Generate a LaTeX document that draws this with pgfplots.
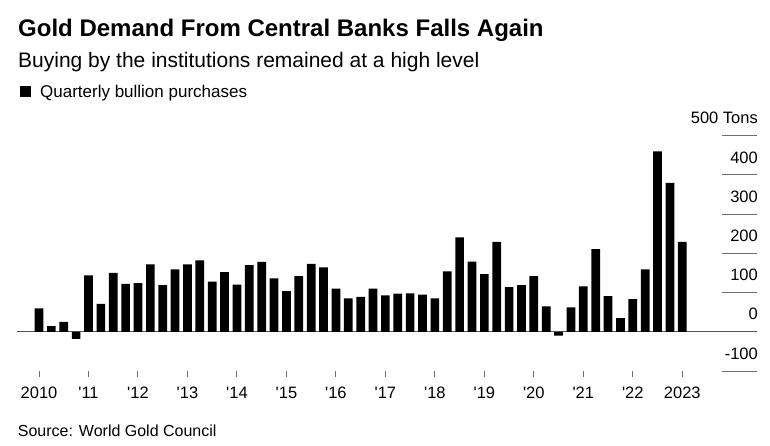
\documentclass[border=0pt]{standalone}
\usepackage{pgfplots}
\usepackage{pgfplotstable}
\pgfplotsset{compat=1.18}
\usepackage{fontspec}
\setmainfont{Liberation Sans}
\definecolor{gridgray}{HTML}{6E6E6E}
\definecolor{zerogray}{HTML}{555555}

\pgfplotstableread{
x y
0 60
1 14.5
2 25
3 -18
4 144
5 71
6 150
7 122
8 124
9 172
10 119
11 159
12 172
13 182
14 128
15 152
16 120
17 170
18 178
19 136
20 104
21 142
22 173
23 164
24 110
25 85
26 89
27 110
28 93
29 97
30 98
31 95
32 85
33 154
34 241
35 179
36 147
37 229
38 114
39 119
40 142
41 65
42 -10
43 62
44 116
45 211
46 91
47 35
48 83
49 159
50 460
51 380
52 229
}\gold

\begin{document}
\begin{tikzpicture}[x=1pt,y=1pt]
\path[use as bounding box] (0,0) rectangle (770,445);
\begin{axis}[
  at={(17pt,74pt)}, anchor=south west,
  scale only axis, width=740pt, height=235.3pt,
  xmin=-1.78, xmax=58.04, ymin=-100, ymax=500,
  axis line style={draw=none},
  font=\fontsize{16.5}{19}\selectfont,
  xtick={0,4,...,52},
  xticklabels={2010,\textquotesingle 11,\textquotesingle 12,\textquotesingle 13,\textquotesingle 14,\textquotesingle 15,\textquotesingle 16,\textquotesingle 17,\textquotesingle 18,\textquotesingle 19,\textquotesingle 20,\textquotesingle 21,\textquotesingle 22,2023},
  xtick pos=bottom, tick align=outside,
  major tick length=6pt,
  xtick style={draw=gridgray, line width=1pt},
  xticklabel style={inner sep=0pt, yshift=-10pt},
  ytick={-100,0,...,500},
  yticklabels={-100,0,100,200,300,400,500 Tons},
  ytick pos=right,
  ytick style={draw=none},
  yticklabel style={anchor=south east, inner sep=0pt, xshift=-5pt, yshift=11.5pt},
  /pgf/number format/assume math mode=true,
  legend style={at={(0.004,1.225)}, anchor=north west, draw=none, fill=none, inner sep=0pt,
    font=\fontsize{17}{20}\selectfont, legend cell align=left},
  legend image code/.code={\fill[black] (0pt,-5.5pt) rectangle (11pt,5.5pt); \path (18pt,0pt);},
  clip=false,
]
\foreach \yy in {-100,100,200,300,400,500}{
  \edef\tmp{\noexpand\draw[gridgray, line width=1pt] (axis cs:55.2,\yy) -- (axis cs:58.04,\yy);}\tmp
}
\draw[zerogray, line width=1.3pt] (axis cs:-1.78,0) -- (axis cs:58.04,0);
\addplot[ybar, bar width=8.7pt, fill=black, draw=none] table[x=x,y=y]{\gold};
\addlegendentry{Quarterly bullion purchases}
\end{axis}
\node[anchor=base west, inner sep=0pt, font=\fontsize{24}{28}\selectfont\bfseries] at (18,408.3) {Gold Demand From Central Banks Falls Again};
\node[anchor=base west, inner sep=0pt, font=\fontsize{21}{25}\selectfont] at (18,377.3) {Buying by the institutions remained at a high level};
\node[anchor=base west, inner sep=0pt, font=\fontsize{16}{19}\selectfont] at (17.7,9) {Source: World Gold Council};
\end{tikzpicture}
\end{document}
